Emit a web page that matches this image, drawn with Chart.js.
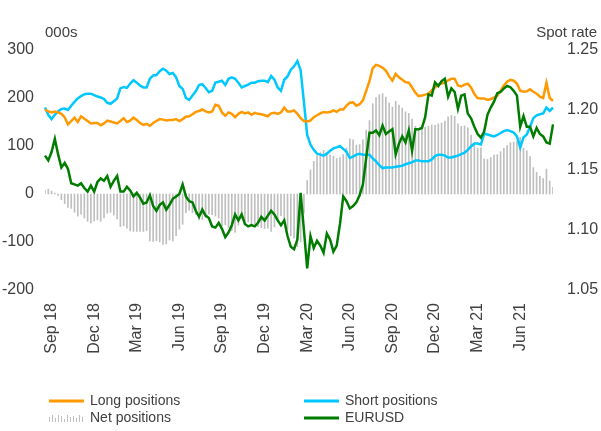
<!DOCTYPE html>
<html>
<head>
<meta charset="utf-8">
<script src="https://cdn.jsdelivr.net/npm/chart.js@4"></script>
<style>
  body { margin: 0; background: #fff; }
  #wrap { width: 601px; height: 431px; }
</style>
</head>
<body>
<div id="wrap"><canvas id="cotChart" width="601" height="431"></canvas></div>
<script>
// CFTC EUR positioning, weekly, late Aug 2018 - Aug 2021 (000s of contracts)
var tickLabels = ['Sep 18', 'Dec 18', 'Mar 19', 'Jun 19', 'Sep 19', 'Dec 19',
                  'Mar 20', 'Jun 20', 'Sep 20', 'Dec 20', 'Mar 21', 'Jun 21'];

var longPos = [
  176,172,170,172,170,167,160,145,152,159,
  150,162,157,152,147,148,148,143,147,153,
  151,149,147,152,158,150,153,159,154,148,
  144,146,142,148,152,156,155,153,154,154,
  156,152,156,161,162,166,171,173,176,172,
  170,172,186,184,170,163,170,167,160,167,
  171,168,170,165,169,167,166,164,162,168,
  169,167,170,180,172,172,174,167,158,152,
  151,153,160,164,168,171,170,171,174,171,
  176,176,184,190,191,184,187,195,215,235,
  262,269,267,263,257,245,236,250,243,238,
  233,232,222,211,204,205,207,209,216,222,
  228,230,232,237,240,240,226,224,228,230,
  222,208,200,199,199,196,198,201,205,215,
  226,234,238,236,230,215,213,214,218,213,
  209,203,200,232,200,194
];

var shortPos = [
  180,165,156,165,172,177,178,175,184,192,
  199,204,208,209,209,206,203,201,198,190,
  188,193,199,220,223,221,230,237,232,226,
  222,222,240,247,248,256,261,257,250,252,
  243,225,219,200,196,205,214,227,229,221,
  212,215,232,234,236,227,240,243,240,232,
  222,225,228,232,232,235,236,236,233,246,
  238,222,215,238,245,259,266,277,258,192,
  123,103,92,84,82,80,84,90,95,97,
  100,94,88,75,78,82,84,82,82,82,
  74,68,60,54,55,55,55,57,58,59,
  62,64,66,70,70,68,68,68,72,79,
  82,82,80,76,76,78,80,83,86,92,
  99,105,105,103,126,124,122,120,123,127,
  131,133,131,128,120,97,118,124,140,158,
  164,166,168,180,173,180
];

var netPos = [
  8,10,6,2,-3,-12,-20,-28,-30,-38,
  -46,-42,-50,-57,-60,-56,-54,-57,-50,-40,
  -38,-44,-52,-68,-66,-71,-77,-78,-78,-78,
  -78,-76,-98,-99,-97,-100,-105,-104,-96,-98,
  -87,-73,-63,-39,-34,-39,-43,-54,-53,-49,
  -42,-43,-46,-50,-66,-64,-70,-76,-80,-65,
  -51,-57,-58,-67,-63,-68,-70,-72,-71,-78,
  -69,-55,-45,-58,-73,-87,-92,-110,-100,-40,
  28,50,68,80,86,91,86,81,79,74,
  76,82,96,115,113,102,103,113,133,153,
  188,201,207,209,202,190,181,193,185,179,
  171,168,156,141,134,137,139,141,144,143,
  146,148,152,161,164,162,146,141,142,138,
  123,103,95,96,73,72,76,81,82,88,
  95,101,107,108,110,118,95,90,78,55,
  45,37,32,52,27,14
];

var eurusd = [
  1.162,1.158,1.165,1.176,1.163,1.152,1.156,1.151,1.139,1.138,
  1.137,1.139,1.135,1.132,1.137,1.132,1.140,1.143,1.141,1.145,
  1.136,1.141,1.145,1.132,1.132,1.136,1.133,1.128,1.131,1.127,
  1.122,1.123,1.129,1.120,1.116,1.121,1.123,1.117,1.121,1.126,
  1.128,1.130,1.138,1.128,1.124,1.123,1.116,1.111,1.117,1.112,
  1.110,1.103,1.102,1.106,1.101,1.094,1.098,1.104,1.113,1.108,
  1.113,1.105,1.103,1.104,1.103,1.106,1.111,1.108,1.112,1.116,
  1.113,1.108,1.104,1.108,1.095,1.086,1.084,1.092,1.131,1.100,
  1.068,1.095,1.085,1.091,1.087,1.081,1.097,1.092,1.082,1.087,
  1.105,1.128,1.124,1.118,1.120,1.123,1.129,1.138,1.160,1.181,
  1.181,1.183,1.179,1.187,1.180,1.182,1.184,1.163,1.172,1.178,
  1.173,1.183,1.166,1.184,1.184,1.185,1.194,1.213,1.212,1.223,
  1.220,1.224,1.226,1.211,1.218,1.215,1.201,1.212,1.213,1.197,
  1.193,1.186,1.180,1.177,1.182,1.196,1.202,1.207,1.214,1.215,
  1.218,1.220,1.219,1.216,1.212,1.186,1.195,1.186,1.186,1.178,
  1.185,1.180,1.178,1.173,1.172,1.188
];

// weekly report dates (Tuesdays)
var weeks = [];
var d0 = new Date(2018, 7, 28);
for (var i = 0; i < longPos.length; i++) {
  var d = new Date(d0.getTime() + i * 7 * 86400000);
  weeks.push(d.toISOString().slice(0, 10));
}

var FONT = "'Liberation Sans', Arial, sans-serif";
var TXT = '#404040';

var extras = {
  id: 'extras',
  afterDraw: function(chart) {
    var c = chart.ctx;
    c.save();
    c.fillStyle = TXT;
    c.font = '15px ' + FONT;
    c.textBaseline = 'middle';
    c.textAlign = 'left';
    c.fillText('000s', 45, 33);
    c.textAlign = 'right';
    c.fillText('Spot rate', 597, 33);

    // legend, two columns
    var ds = chart.data.datasets;
    var items = [
      { d: ds[1], x: 49, y: 401 },
      { d: ds[2], x: 304, y: 401 },
      { d: ds[3], x: 49, y: 418 },
      { d: ds[0], x: 304, y: 418 }
    ];
    c.font = '14px ' + FONT;
    c.textAlign = 'left';
    items.forEach(function(it) {
      if (it.d.type === 'line') {
        c.strokeStyle = it.d.borderColor;
        c.lineWidth = 3;
        c.beginPath();
        c.moveTo(it.x, it.y);
        c.lineTo(it.x + 35, it.y);
        c.stroke();
      } else {
        var hs = [5, 7, 4, 7, 6, 3, 7, 5, 6, 4, 7, 5];
        c.fillStyle = it.d.backgroundColor;
        for (var k = 0; k < hs.length; k++) {
          c.fillRect(it.x + k * 3, it.y + 4 - hs[k], 1, hs[k]);
        }
      }
      c.fillStyle = TXT;
      c.fillText(it.d.label, it.x + 41, it.y);
    });
    c.restore();
  }
};

var ctx = document.getElementById('cotChart').getContext('2d');
var myChart = new Chart(ctx, {
  type: 'bar',
  data: {
    labels: weeks,
    datasets: [{
      type: 'line',
      label: 'EURUSD',
      data: eurusd,
      yAxisID: 'y1',
      borderColor: '#007d00',
      borderWidth: 2.5,
      pointRadius: 0,
      tension: 0,
      order: 0
    }, {
      type: 'line',
      label: 'Long positions',
      data: longPos,
      yAxisID: 'y',
      borderColor: '#ff9900',
      borderWidth: 2.5,
      pointRadius: 0,
      tension: 0,
      order: 1
    }, {
      type: 'line',
      label: 'Short positions',
      data: shortPos,
      yAxisID: 'y',
      borderColor: '#00c8ff',
      borderWidth: 2.5,
      pointRadius: 0,
      tension: 0,
      order: 2
    }, {
      type: 'bar',
      label: 'Net positions',
      data: netPos,
      yAxisID: 'y',
      backgroundColor: '#bfbfbf',
      barThickness: 1,
      order: 3
    }]
  },
  options: {
    responsive: false,
    animation: false,
    layout: { padding: { top: 50, bottom: 71, left: 0, right: 0 } },
    plugins: {
      legend: { display: false },
      tooltip: { enabled: false }
    },
    scales: {
      x: {
        offset: false,
        grid: { display: false, drawTicks: false },
        border: { display: false },
        ticks: {
          autoSkip: false,
          minRotation: 90,
          maxRotation: 90,
          padding: 13,
          color: TXT,
          font: { family: FONT, size: 16 },
          callback: function(v, idx) {
            var k = (idx - 2) / 13;
            return (idx >= 2 && k === Math.floor(k) && k < tickLabels.length) ? tickLabels[k] : '';
          }
        },
        afterFit: function(s) { s.height = 70; }
      },
      y: {
        position: 'left',
        min: -200,
        max: 300,
        grid: { display: false, drawTicks: false },
        border: { display: false },
        ticks: { stepSize: 100, padding: 11, color: TXT, font: { family: FONT, size: 16 } },
        afterFit: function(s) { s.width = 45; }
      },
      y1: {
        position: 'right',
        min: 1.05,
        max: 1.25,
        grid: { display: false, drawTicks: false },
        border: { display: false },
        ticks: {
          stepSize: 0.05,
          padding: 14,
          color: TXT,
          font: { family: FONT, size: 16 },
          callback: function(v) { return v.toFixed(2); }
        },
        afterFit: function(s) { s.width = 48; }
      }
    }
  },
  plugins: [extras]
});
</script>
</body>
</html>
